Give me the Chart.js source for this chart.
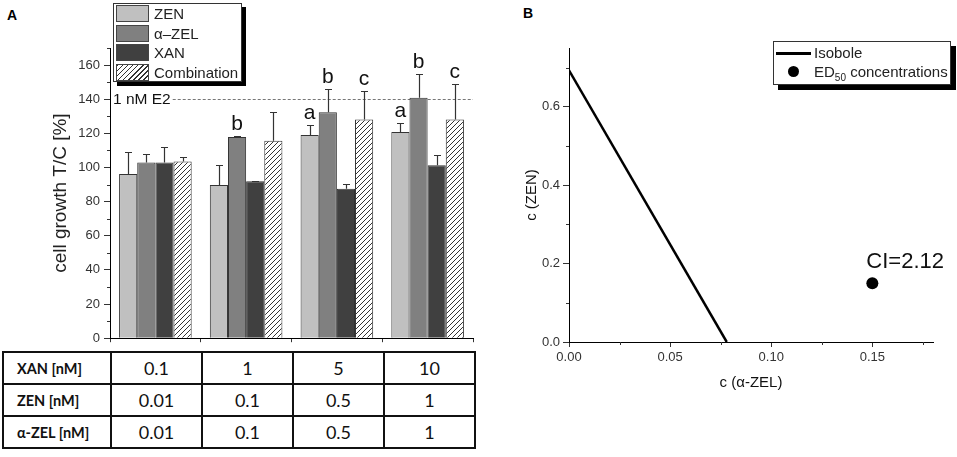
<!DOCTYPE html>
<html>
<head>
<meta charset="utf-8">
<script src="https://cdn.jsdelivr.net/npm/chart.js@4.4.1/dist/chart.umd.min.js"></script>
<style>
  html, body { margin: 0; padding: 0; background: #fff; }
  #wrap { position: relative; width: 957px; height: 457px; overflow: hidden; font-family: "Liberation Sans", Arial, sans-serif; }
  .panel { position: absolute; font-weight: bold; font-size: 14px; color: #000; }
  canvas { position: absolute; }
  .legend { position: absolute; background: #fff; border: 1px solid #333; box-sizing: border-box; color: #222; font-size: 15px; }
  .legend .row { position: absolute; left: 0; right: 0; height: 19px; }
  .legend .sw { position: absolute; left: 2px; top: 1px; width: 33px; height: 17px; box-sizing: border-box; border: 1px solid #444; }
  .legend .lb { position: absolute; left: 40px; top: 0; line-height: 19px; white-space: nowrap; }
  #conc { position: absolute; left: 2px; top: 351px; border-collapse: collapse; table-layout: fixed; font-family: Lato, "Open Sans", sans-serif; color: #111; }
  #conc td { border: 2px solid #111; height: 30px; padding: 0; text-align: center; font-size: 18px; }
  #conc td.head { text-align: left; padding-left: 13px; font-weight: bold; font-size: 14.5px; }
</style>
</head>
<body>
<div id="wrap">
  <div class="panel" style="left:7px; top:7px;">A</div>
  <div class="panel" style="left:523px; top:5px;">B</div>
  <canvas id="barChart" width="480" height="350" style="left:0; top:0;"></canvas>
  <div id="legendA" class="legend" style="left:113px; top:3px; width:129px; height:79px; box-shadow:4px 4px 0 #000;"></div>
  <table id="conc"></table>
  <canvas id="isoChart" width="477" height="400" style="left:480px; top:0;"></canvas>
  <div id="legendB" class="legend" style="left:773px; top:41px; width:178px; height:44px; box-shadow:5px 5px 0 #000;">
    <div style="position:absolute; left:2px; top:10px; width:35px; height:2.5px; background:#000;"></div>
    <div style="position:absolute; left:40px; top:1px; line-height:20px;">Isobole</div>
    <div style="position:absolute; left:14px; top:24px; width:11px; height:11px; border-radius:50%; background:#000;"></div>
    <div id="edLabel" style="position:absolute; left:40px; top:20px; line-height:20px; white-space:nowrap;"></div>
  </div>
</div>

<script>
// panel A: cell growth bars
const groups = ["0.1", "1", "5", "10"];
const seriesNames = ["ZEN", "α–ZEL", "XAN", "Combination"];
const zenMean = [96.2, 89.8, 119.0, 120.8];
const zenErr = [12.6, 11.7, 6.0, 5.4];
const zelMean = [102.9, 117.9, 132.3, 140.8];
const zelErr = [4.8, 0.5, 13.9, 14.0];
const xanMean = [102.9, 91.9, 87.6, 101.3];
const xanErr = [9.2, 0.4, 2.9, 6.2];
const combMean = [103.5, 115.6, 128.1, 128.1];
const combErr = [2.7, 16.7, 16.7, 21.1];
const zenLetters = ["", "", "a", "a"];
const zelLetters = ["", "b", "b", "b"];
const xanLetters = ["", "", "", ""];
const combLetters = ["", "", "c", "c"];
const e2Level = 140;
const e2Label = "1 nM E2";
const barMinorTicks = [10, 30, 50, 70, 90, 110, 130, 150, 170];

// concentration table under panel A
const rowLabels = ["XAN [nM]", "ZEN [nM]", "α-ZEL [nM]"];
const xanConc = ["0.1", "1", "5", "10"];
const zenConc = ["0.01", "0.1", "0.5", "1"];
const zelConc = ["0.01", "0.1", "0.5", "1"];

// panel B: isobologram
const isoX = [0, 0.078];
const isoY = [0.693, 0];
const ed50X = [0.15];
const ed50Y = [0.15];
const ciLabel = "CI=2.12";
const isoMinorX = [0.025, 0.075, 0.125, 0.175];
const isoMinorY = [0.1, 0.3, 0.5, 0.7];

const FONT = '"Liberation Sans", Arial, sans-serif';
const fillColors = ["#c0c0c0", "#808080", "#404040"];

function makeHatch() {
  const c = document.createElement("canvas");
  c.width = 5; c.height = 5;
  const g = c.getContext("2d");
  g.fillStyle = "#fff";
  g.fillRect(0, 0, 5, 5);
  g.strokeStyle = "#333";
  g.lineWidth = 1;
  g.beginPath();
  g.moveTo(0, 5); g.lineTo(5, 0);
  g.moveTo(-1, 1); g.lineTo(1, -1);
  g.moveTo(4, 6); g.lineTo(6, 4);
  g.stroke();
  return g.createPattern(c, "repeat");
}
const hatch = makeHatch();

// legend A
const legendA = document.getElementById("legendA");
seriesNames.forEach((name, i) => {
  const row = document.createElement("div");
  row.className = "row";
  row.style.top = (i * 19.5) + "px";
  const bg = i < 3
    ? fillColors[i]
    : "repeating-linear-gradient(-45deg, #fff 0px, #fff 2.6px, #333 2.6px, #333 3.6px)";
  row.innerHTML = `<div class="sw" style="background:${bg}"></div><div class="lb">${name}</div>`;
  legendA.appendChild(row);
});
document.getElementById("edLabel").innerHTML =
  'ED<sub style="font-size:10px; vertical-align:-4px;">50</sub> concentrations';

// table
const conc = document.getElementById("conc");
let colHtml = '<colgroup><col style="width:108px">';
groups.forEach(() => (colHtml += '<col style="width:91px">'));
colHtml += "</colgroup>";
const tableRows = [xanConc, zenConc, zelConc];
conc.innerHTML = colHtml + tableRows
  .map((vals, r) => `<tr><td class="head">${rowLabels[r]}</td>${vals.map((v) => `<td>${v}</td>`).join("")}</tr>`)
  .join("");

// shared: short minor ticks on the axes
const minorTicks = {
  id: "minorTicks",
  afterDraw(chart, args, opts) {
    const { ctx } = chart;
    ctx.save();
    ctx.strokeStyle = "#333";
    ctx.lineWidth = 1;
    Object.keys(opts.values || {}).forEach((id) => {
      const s = chart.scales[id];
      opts.values[id].forEach((v) => {
        const p = Math.round(s.getPixelForValue(v)) + 0.5;
        ctx.beginPath();
        if (s.isHorizontal()) {
          ctx.moveTo(p, s.top); ctx.lineTo(p, s.top + 3);
        } else {
          ctx.moveTo(s.right - 3, p); ctx.lineTo(s.right, p);
        }
        ctx.stroke();
      });
    });
    ctx.restore();
  },
};

const errorBars = {
  id: "errorBars",
  afterDatasetsDraw(chart) {
    const { ctx } = chart;
    const y = chart.scales.y;
    ctx.save();
    ctx.strokeStyle = "#333";
    ctx.lineWidth = 1.2;
    ctx.fillStyle = "#111";
    ctx.font = "21px " + FONT;
    ctx.textAlign = "center";
    ctx.textBaseline = "alphabetic";
    chart.data.datasets.forEach((ds, i) => {
      chart.getDatasetMeta(i).data.forEach((bar, j) => {
        const x = Math.round(bar.x) + 0.5;
        const top = Math.round(y.getPixelForValue(ds.data[j] + ds.errors[j])) + 0.5;
        ctx.beginPath();
        ctx.moveTo(x, bar.y);
        ctx.lineTo(x, top);
        ctx.moveTo(x - 3.5, top);
        ctx.lineTo(x + 3.5, top);
        ctx.stroke();
        if (ds.letters[j]) ctx.fillText(ds.letters[j], bar.x, top - 7);
      });
    });
    ctx.restore();
  },
};

const e2Line = {
  id: "e2Line",
  beforeDatasetsDraw(chart) {
    const { ctx, chartArea } = chart;
    const py = Math.round(chart.scales.y.getPixelForValue(e2Level)) + 0.5;
    ctx.save();
    ctx.font = "15.5px " + FONT;
    ctx.fillStyle = "#111";
    ctx.textBaseline = "middle";
    ctx.fillText(e2Label, chartArea.left + 3, py);
    const w = ctx.measureText(e2Label).width;
    ctx.strokeStyle = "#777";
    ctx.lineWidth = 1;
    ctx.setLineDash([3, 2]);
    ctx.beginPath();
    ctx.moveTo(chartArea.left + 5 + w, py);
    ctx.lineTo(chartArea.right, py);
    ctx.stroke();
    ctx.restore();
  },
};

const means = [zenMean, zelMean, xanMean, combMean];
const errs = [zenErr, zelErr, xanErr, combErr];
const letters = [zenLetters, zelLetters, xanLetters, combLetters];

new Chart(document.getElementById("barChart"), {
  type: "bar",
  data: {
    labels: groups,
    datasets: seriesNames.map((name, i) => ({
      label: name,
      data: means[i],
      errors: errs[i],
      letters: letters[i],
      backgroundColor: i < 3 ? fillColors[i] : hatch,
      borderColor: "#333",
      borderWidth: 1,
      categoryPercentage: 0.8,
      barPercentage: 1,
    })),
  },
  options: {
    responsive: false,
    animation: false,
    layout: { padding: { top: 48, right: 7, left: 0, bottom: 0 } },
    plugins: {
      legend: { display: false },
      tooltip: { enabled: false },
      minorTicks: { values: { y: barMinorTicks } },
    },
    scales: {
      x: {
        offset: true,
        grid: { offset: true, drawOnChartArea: false, tickLength: 4, color: "#333" },
        border: { color: "#000", width: 1 },
        ticks: { display: false },
        afterFit: (s) => { s.height = 8; },
      },
      y: {
        min: 0,
        max: 170,
        grid: { drawOnChartArea: false, tickLength: 6, color: "#333" },
        border: { color: "#000", width: 1 },
        ticks: {
          stepSize: 20,
          includeBounds: false,
          padding: 4,
          color: "#333",
          font: { family: FONT, size: 13 },
        },
        title: {
          display: true,
          text: "cell growth T/C [%]",
          color: "#222",
          font: { family: FONT, size: 19 },
          padding: { top: 49, bottom: 0 },
        },
        afterFit: (s) => { s.width = 110; },
      },
    },
  },
  plugins: [minorTicks, errorBars, e2Line],
});

const ciText = {
  id: "ciText",
  afterDatasetsDraw(chart) {
    const { ctx } = chart;
    const p = chart.getDatasetMeta(1).data[0];
    ctx.save();
    ctx.font = "22px " + FONT;
    ctx.fillStyle = "#111";
    ctx.textBaseline = "alphabetic";
    ctx.fillText(ciLabel, p.x - 6, p.y - 15);
    ctx.restore();
  },
};

new Chart(document.getElementById("isoChart"), {
  type: "scatter",
  data: {
    datasets: [
      {
        label: "Isobole",
        data: isoX.map((x, i) => ({ x: x, y: isoY[i] })),
        showLine: true,
        borderColor: "#000",
        borderWidth: 2.5,
        pointRadius: 0,
      },
      {
        label: "ED50 concentrations",
        data: ed50X.map((x, i) => ({ x: x, y: ed50Y[i] })),
        pointRadius: 6,
        backgroundColor: "#000",
        borderWidth: 0,
      },
    ],
  },
  options: {
    responsive: false,
    animation: false,
    layout: { padding: { top: 48, right: 24, left: 0, bottom: 0 } },
    plugins: {
      legend: { display: false },
      tooltip: { enabled: false },
      minorTicks: { values: { x: isoMinorX, y: isoMinorY } },
    },
    scales: {
      x: {
        min: 0,
        max: 0.18,
        grid: { drawOnChartArea: false, tickLength: 5, color: "#333" },
        border: { color: "#000", width: 1 },
        ticks: {
          stepSize: 0.05,
          includeBounds: false,
          padding: 3,
          color: "#333",
          font: { family: FONT, size: 13 },
          callback: (v) => Number(v).toFixed(2),
        },
        title: {
          display: true,
          text: "c (α-ZEL)",
          color: "#111",
          font: { family: FONT, size: 15 },
          padding: { top: 0, bottom: 8 },
        },
        afterFit: (s) => { s.height = 58; },
      },
      y: {
        min: 0,
        max: 0.75,
        grid: { drawOnChartArea: false, tickLength: 6, color: "#333" },
        border: { color: "#000", width: 1 },
        ticks: {
          stepSize: 0.2,
          includeBounds: false,
          padding: 3,
          color: "#333",
          font: { family: FONT, size: 13 },
          callback: (v) => Number(v).toFixed(1),
        },
        title: {
          display: true,
          text: "c (ZEN)",
          color: "#111",
          font: { family: FONT, size: 15 },
          padding: { top: 43, bottom: 0 },
        },
        afterFit: (s) => { s.width = 89; },
      },
    },
  },
  plugins: [minorTicks, ciText],
});
</script>
</body>
</html>
